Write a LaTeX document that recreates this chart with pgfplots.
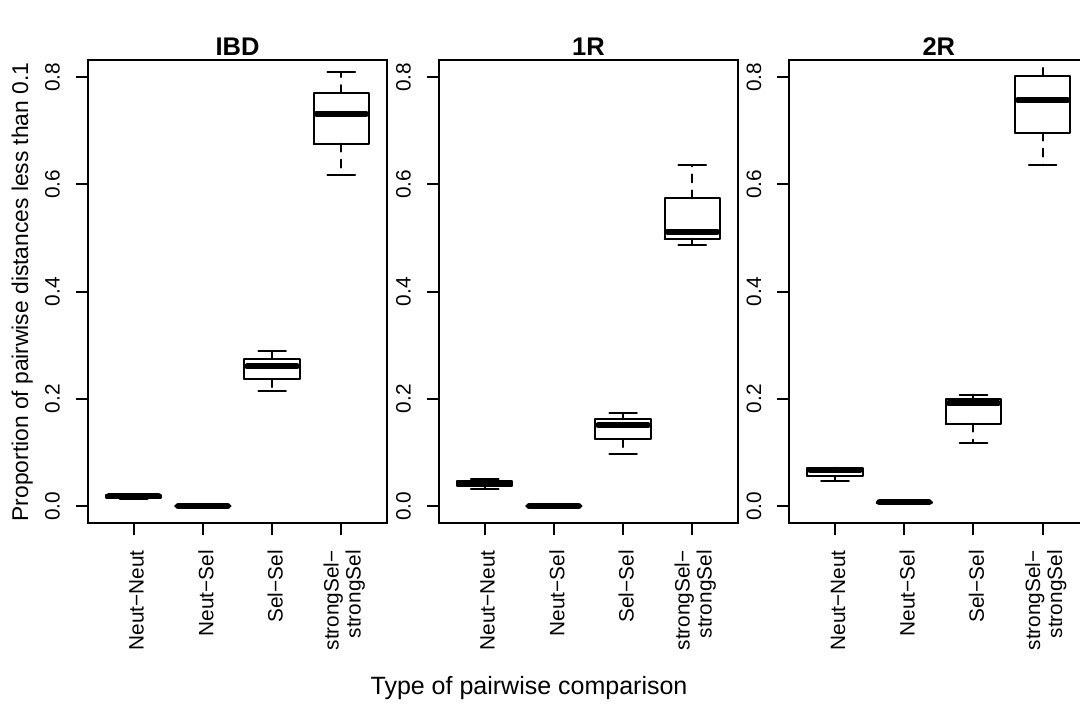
\documentclass[border=0pt]{standalone}
\usepackage{fontspec}
\setmainfont{Liberation Sans}
\usepackage{pgfplots}
\pgfplotsset{compat=1.18}

% #1 position, #2 lower whisker, #3 lower quartile, #4 median, #5 upper quartile, #6 upper whisker
\newcommand{\bx}[6]{%
 \addplot[rl, dash pattern=on 4pt off 4pt] table[row sep=\\, x expr=#1, y=y] {y\\ #3\\ #2\\};
 \addplot[rl, dash pattern=on 4pt off 4pt] table[row sep=\\, x expr=#1, y=y] {y\\ #5\\ #6\\};
 \addplot[rl] table[row sep=\\, x expr=#1+\thisrow{dx}, y=y] {dx y\\ -0.2 #2\\ 0.2 #2\\};
 \addplot[rl] table[row sep=\\, x expr=#1+\thisrow{dx}, y=y] {dx y\\ -0.2 #6\\ 0.2 #6\\};
 \addplot[rl] table[row sep=\\, x expr=#1+\thisrow{dx}, y=y] {dx y\\ -0.4 #3\\ 0.4 #3\\ 0.4 #5\\ -0.4 #5\\ -0.4 #3\\};
 \addplot[rl, line width=3pt] table[row sep=\\, x expr=#1+\thisrow{dx}, y=y] {dx y\\ -0.36 #4\\ 0.36 #4\\};
}

\pgfplotsset{
  rl/.style={black, line width=1pt, mark=none, line cap=round, line join=round},
  rbox/.style={
    scale only axis, width=149.5pt, height=231.65pt,
    xmin=0.34, xmax=4.66, ymin=-0.032, ymax=0.832,
    axis line style={line width=1pt},
    tick style={line width=1pt, black},
    major tick length=6pt,
    tick align=outside, tick pos=left,
    xtick={1,2,3,4},
    xticklabels={Neut−Neut, Neut−Sel, Sel−Sel, {strongSel−\\strongSel}},
    ytick={0,0.2,0.4,0.6,0.8},
    yticklabel={\pgfmathprintnumber[fixed,fixed zerofill,precision=1]{\tick}},
    /pgf/number format/assume math mode=true,
    xticklabel style={rotate=90, anchor=east, align=right, yshift=-1.5pt, font=\fontsize{10.4}{11}\selectfont},
    yticklabel style={rotate=90, anchor=south, font=\fontsize{10.4}{11}\selectfont},
    xticklabel shift=4pt, yticklabel shift=4.5pt,
    title style={at={(0.5,1)}, anchor=base, yshift=-4pt, font=\bfseries\fontsize{12.75}{15}\selectfont},
  }
}

\begin{document}
\begin{tikzpicture}
\begin{axis}[rbox, at={(44pt,90.35pt)}, anchor=south west, title={IBD}]
\bx{1}{0.014}{0.016}{0.019}{0.021}{0.023}
\bx{2}{0}{0}{0}{0}{0}
\bx{3}{0.214}{0.237}{0.2605}{0.275}{0.290}
\bx{4}{0.618}{0.676}{0.732}{0.770}{0.809}
\end{axis}
\begin{axis}[rbox, at={(219.5pt,90.35pt)}, anchor=south west, title={1R}]
\bx{1}{0.032}{0.038}{0.042}{0.046}{0.050}
\bx{2}{0}{0}{0}{0}{0}
\bx{3}{0.098}{0.125}{0.151}{0.162}{0.174}
\bx{4}{0.487}{0.499}{0.512}{0.574}{0.636}
\end{axis}
\begin{axis}[rbox, at={(394.65pt,90.35pt)}, anchor=south west, title={2R}]
\bx{1}{0.0465}{0.056}{0.067}{0.071}{0.072}
\bx{2}{0.006}{0.0065}{0.007}{0.0075}{0.008}
\bx{3}{0.118}{0.154}{0.192}{0.199}{0.208}
\bx{4}{0.636}{0.6965}{0.7566}{0.8025}{0.845}
\end{axis}
\node[rotate=90, anchor=base, font=\fontsize{11.4}{14}\selectfont] at (14pt,206pt) {Proportion of pairwise distances less than 0.1};
\node[anchor=base, font=\fontsize{12.5}{15}\selectfont] at (264.5pt,4.5pt) {Type of pairwise comparison};
\pgfresetboundingbox
\useasboundingbox (0,0) rectangle (540pt,352pt);
\end{tikzpicture}
\end{document}
